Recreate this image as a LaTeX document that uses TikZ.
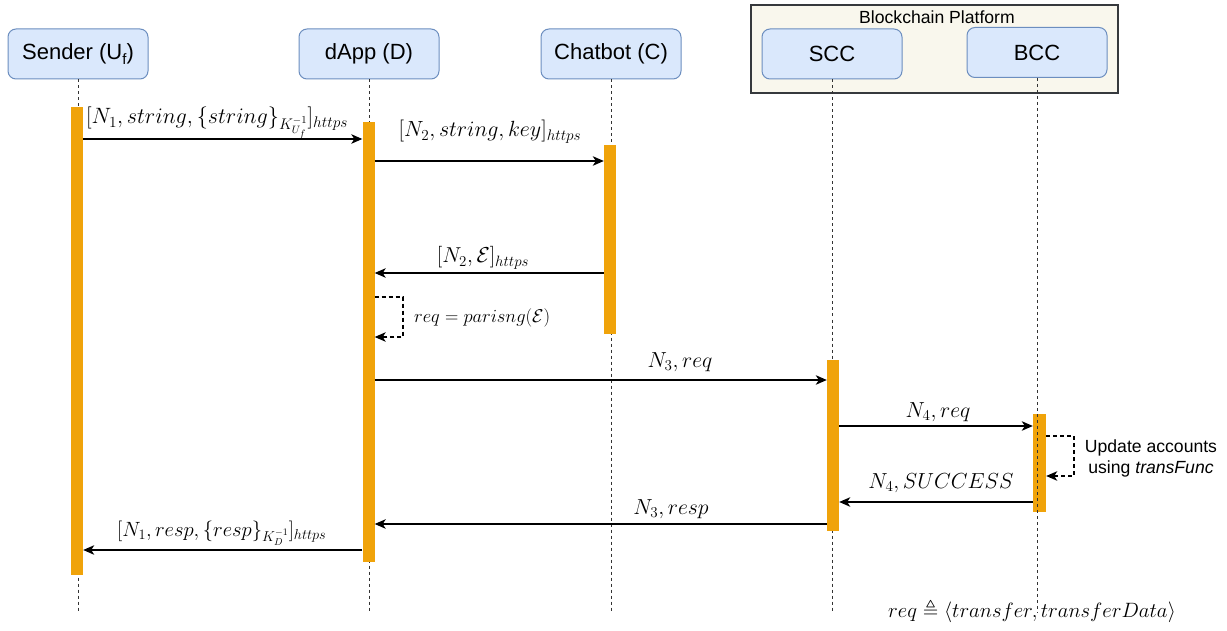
\documentclass[tikz,border=0pt]{standalone}
\usepackage{amssymb}
\usepackage[no-math]{fontspec}
\newfontfamily\lab{Liberation Sans}
\usetikzlibrary{arrows.meta}
\definecolor{boxfill}{HTML}{DAE8FC}
\definecolor{boxline}{HTML}{6C8EBF}
\definecolor{actfill}{HTML}{F0A30A}
\definecolor{platfill}{HTML}{F9F7ED}
\definecolor{platline}{HTML}{36393D}
\definecolor{lifeline}{HTML}{333333}
% math label, slightly enlarged
\newcommand{\mlabel}[2][1.05]{\scalebox{#1}{$#2$}}
\tikzset{
  actor/.style={draw=boxline, fill=boxfill, rounded corners=8pt, line width=1pt,
    minimum width=140pt, minimum height=50pt, inner sep=0pt,
    font=\lab\fontsize{22}{26}\selectfont},
  platform/.style={draw=platline, fill=platfill, line width=1.2pt, inner sep=0pt},
  actbar/.style={fill=actfill, draw=none, minimum width=12pt, inner sep=0pt, anchor=north},
  life/.style={draw=lifeline, line width=1pt, dash pattern=on 3pt off 3pt},
  msg/.style={draw=black, line width=1.2pt, -{Stealth[length=11pt,width=9.5pt,inset=3pt]}},
  selfmsg/.style={msg, dash pattern=on 4pt off 3pt},
  mlab/.style={inner sep=0pt, font=\fontsize{20}{24}\selectfont},
  slab/.style={inner sep=0pt, font=\lab\fontsize{17.6}{21}\selectfont}
}
\begin{document}
\begin{tikzpicture}[x=1pt, y=-1pt]
\useasboundingbox (0,0) rectangle (1227,631);

% participants
\node[actor] (snd) at (78,54) {Sender (U\raisebox{-0.25em}{\fontsize{15}{15}\selectfont f})};
\node[actor] (dap) at (369,54) {dApp (D)};
\node[actor] (bot) at (611,54) {Chatbot (C)};
\node[platform, minimum width=367pt, minimum height=88pt] (plat) at (934.5,49) {};
\node[slab, anchor=base] (plattitle) at (937,24) {Blockchain Platform};
\node[actor] (scc) at (832,54) {SCC};
\node[actor] (bcc) at (1037,52.5) {BCC};

% end of the lifelines
\coordinate (bottom) at (0,613);

% lifelines
\draw[life] (snd.south) -- (snd.south |- bottom);
\draw[life] (dap.south) -- (dap.south |- bottom);
\draw[life] (bot.south) -- (bot.south |- bottom);
\draw[life] (scc.south) -- (scc.south |- bottom);

% activation bars
\node[actbar, minimum height=468pt] (barU) at (77,107) {};
\node[actbar, minimum height=440pt] (barD) at (368.5,122) {};
\node[actbar, minimum height=189pt] (barC) at (610,145) {};
\node[actbar, minimum height=171pt] (barS) at (833,360) {};
\node[actbar, minimum height=98pt, minimum width=13pt] (barB) at (1039.5,414) {};

% BCC lifeline runs over its bar
\draw[life] (bcc.south) -- (bcc.south |- bottom);

% message rows
\coordinate (m1) at (0,139);
\coordinate (m2) at (0,161);
\coordinate (m3) at (0,273);
\coordinate (m4) at (0,380);
\coordinate (m5) at (0,426);
\coordinate (m6) at (0,502);
\coordinate (m7) at (0,524);
\coordinate (m8) at (0,550);

% messages
\draw[msg] (barU.east |- m1) -- (barD.west |- m1);
\node[mlab, anchor=base west] (l1) at (86,124)
  {\mlabel[1.07]{[N_1, string, \{string\}_{K_{U_f}^{-1}}]_{https}}};

\draw[msg] (barD.east |- m2) -- (barC.west |- m2);
\node[mlab, anchor=base] (l2) at (490,137) {\mlabel[1.06]{[N_2, string, key]_{https}}};

\draw[msg] (barC.west |- m3) -- (barD.east |- m3);
\node[mlab, anchor=base] (l3) at (483,263) {\mlabel[1.04]{[N_2, \mathcal{E}]_{https}}};

% parsing step inside the dApp
\coordinate (p1) at (403,297);
\coordinate (p2) at (403,337);
\draw[selfmsg] (barD.east |- p1) -- (p1) -- (p2) -- (barD.east |- p2);
\node[mlab, anchor=base west, font=\fontsize{17}{20}\selectfont] (l4) at (414,323)
  {\mlabel[1.07]{req = parisng(\mathcal{E})}};

\draw[msg] (barD.east |- m4) -- (barS.west |- m4);
\node[mlab, anchor=base] (l5) at (680,367) {\mlabel{N_3, req}};

\draw[msg] (barS.east |- m5) -- (barB.west |- m5);
\node[mlab, anchor=base] (l6) at (938,417) {\mlabel{N_4, req}};

% account update inside the BCC
\coordinate (q1) at (1074,436);
\coordinate (q2) at (1074,476);
\draw[selfmsg] (barB.east |- q1) -- (q1) -- (q2) -- (barB.east |- q2);
\node[slab, align=center] (l7) at (1151,458) {Update accounts\\using \textit{transFunc}};

\draw[msg] (barB.west |- m6) -- (barS.east |- m6);
\node[mlab, anchor=base] (l8) at (941,488) {\mlabel{N_4, SUCCESS}};

\draw[msg] (barS.west |- m7) -- (barD.east |- m7);
\node[mlab, anchor=base] (l9) at (671,514) {\mlabel{N_3, resp}};

\draw[msg] (barD.west |- m8) -- (barU.east |- m8);
\node[mlab, anchor=base west] (l10) at (117,536)
  {\mlabel[0.995]{[N_1, resp, \{resp\}_{K_D^{-1}}]_{https}}};

% definition of the request
\node[mlab, anchor=base] (def) at (1032,617)
  {\mlabel[1.0]{req \triangleq \langle transfer, transferData\rangle}};
\end{tikzpicture}
\end{document}
